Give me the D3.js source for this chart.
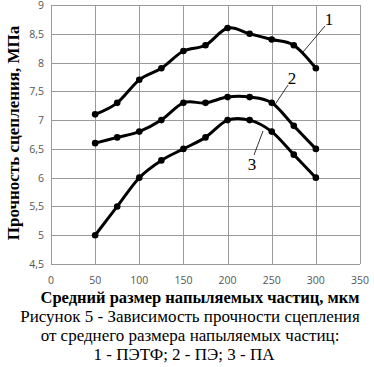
<!DOCTYPE html>
<html>
<head>
<meta charset="utf-8">
<script src="https://cdn.jsdelivr.net/npm/d3@7"></script>
<style>
  body { margin: 0; background: #fff; }
  svg { display: block; }
</style>
</head>
<body>
<svg id="chart" width="374" height="367"></svg>
<script>
// particle size, um
var sizes = [50, 75, 100, 125, 150, 175, 200, 225, 250, 275, 300];
// bond strength, MPa
var petf = [7.1, 7.3, 7.7, 7.9, 8.2, 8.3, 8.6, 8.5, 8.4, 8.3, 7.9];
var pe   = [6.6, 6.7, 6.8, 7.0, 7.3, 7.3, 7.4, 7.4, 7.3, 6.9, 6.5];
var pa   = [5.0, 5.5, 6.0, 6.3, 6.5, 6.7, 7.0, 7.0, 6.8, 6.4, 6.0];
var seriesNames = ["1", "2", "3"];
var xTicks = [0, 50, 100, 150, 200, 250, 300, 350];
var yTicks = [4.5, 5, 5.5, 6, 6.5, 7, 7.5, 8, 8.5, 9];
var captionLines = [
    "Рисунок 5 - Зависимость прочности сцепления",
    "от среднего размера напыляемых частиц:",
    "1 - ПЭТФ; 2 - ПЭ; 3 - ПА"
];

var svg = d3.select("#chart");
var serif = "'Liberation Serif', 'Times New Roman', serif";
var sans = "'Open Sans', 'DejaVu Sans', sans-serif";

var x = d3.scaleLinear().domain([0, 350]).range([51, 360]);
var y = d3.scaleLinear().domain([4.5, 9]).range([264, 5]);

// grid
var grid = svg.append("g").attr("stroke", "#9a9a9a").attr("stroke-width", 1);
grid.selectAll("line.v").data(xTicks).enter().append("line")
    .attr("x1", d => Math.round(x(d)) + 0.5).attr("x2", d => Math.round(x(d)) + 0.5)
    .attr("y1", y(9)).attr("y2", y(4.5));
grid.selectAll("line.h").data(yTicks).enter().append("line")
    .attr("y1", d => Math.round(y(d)) + 0.5).attr("y2", d => Math.round(y(d)) + 0.5)
    .attr("x1", x(0)).attr("x2", x(350));

// tick labels
var fmt = d => String(d).replace(".", ",");
svg.append("g").selectAll("text").data(xTicks).enter().append("text")
    .attr("x", d => x(d)).attr("y", 284)
    .attr("text-anchor", "middle")
    .attr("font-family", sans).attr("font-size", 10.5).attr("fill", "#555")
    .text(d => d);
svg.append("g").selectAll("text").data(yTicks).enter().append("text")
    .attr("x", 44).attr("y", d => y(d) + 4)
    .attr("text-anchor", "end")
    .attr("font-family", sans).attr("font-size", 10.5).attr("fill", "#555")
    .text(fmt);

// series
var allSeries = [petf, pe, pa];
var line = d3.line()
    .x((d, i) => x(sizes[i]))
    .y(d => y(d))
    .curve(d3.curveCardinal.tension(0));

var seriesG = svg.append("g").selectAll("g").data(allSeries).enter().append("g");
seriesG.append("path")
    .attr("d", d => line(d))
    .attr("fill", "none").attr("stroke", "#000").attr("stroke-width", 3)
    .attr("stroke-linejoin", "round");
seriesG.selectAll("circle").data(d => d).enter().append("circle")
    .attr("cx", (d, i) => x(sizes[i])).attr("cy", d => y(d))
    .attr("r", 3.3).attr("fill", "#000");

// series callouts
var callouts = [
    {lx: 329, ly: 25, x1: 325, y1: 26, x2: 303, y2: 52},
    {lx: 292, ly: 84, x1: 288, y1: 85, x2: 274, y2: 106},
    {lx: 252, ly: 170, x1: 254, y1: 155, x2: 263, y2: 131}
];
callouts.forEach(function (c, i) {
    svg.append("line")
        .attr("x1", c.x1).attr("y1", c.y1).attr("x2", c.x2).attr("y2", c.y2)
        .attr("stroke", "#000").attr("stroke-width", 0.8);
    svg.append("text")
        .attr("x", c.lx).attr("y", c.ly)
        .attr("text-anchor", "middle")
        .attr("font-family", serif).attr("font-size", 17)
        .text(seriesNames[i]);
});

// axis titles
svg.append("text")
    .attr("transform", "translate(19,133) rotate(-90)")
    .attr("text-anchor", "middle")
    .attr("font-family", serif).attr("font-size", 17).attr("font-weight", "bold")
    .text("Прочность сцепления, МПа");
svg.append("text")
    .attr("x", 200).attr("y", 303)
    .attr("text-anchor", "middle")
    .attr("font-family", serif).attr("font-size", 16.5).attr("font-weight", "bold")
    .text("Средний размер напыляемых частиц, мкм");

// caption
svg.append("g").selectAll("text").data(captionLines).enter().append("text")
    .attr("x", (d, i) => i == 2 ? 184 : 190)
    .attr("y", (d, i) => 322 + i * 19)
    .attr("text-anchor", "middle")
    .attr("font-family", serif).attr("font-size", 17)
    .text(d => d);
</script>
</body>
</html>
